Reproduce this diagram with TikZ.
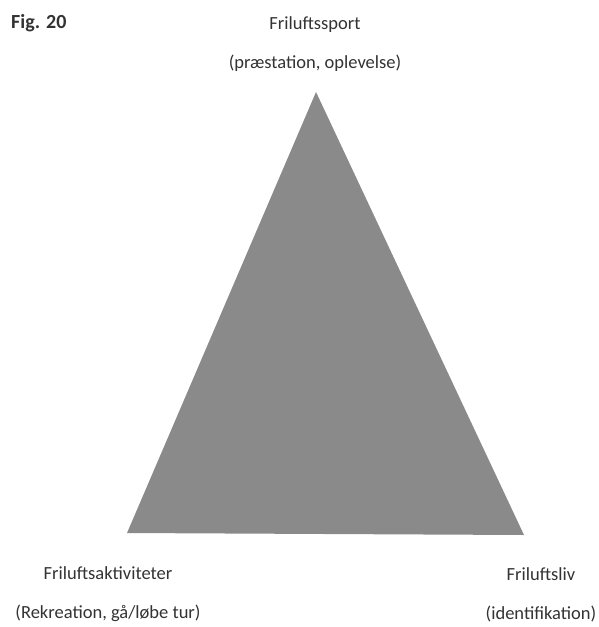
\documentclass[tikz,border=0pt]{standalone}
\usepackage{fontspec}
\setmainfont{Carlito}
\definecolor{trigray}{HTML}{8A8A8A}
\definecolor{txtgray}{HTML}{333333}
\tikzset{
  lbl/.style={align=center, font=\fontsize{18.5}{39}\selectfont, text=txtgray, inner sep=0pt},
  tri/.style={fill=trigray, draw=none}
}
\begin{document}
\begin{tikzpicture}[x=1pt,y=-1pt]
\useasboundingbox (0,0) rectangle (599,627);
\fill[white] (0,0) rectangle (599,627);
\coordinate (A) at (316,92);
\coordinate (B) at (127,533);
\coordinate (C) at (524,535);
\path[tri] (A) -- (B) -- (C) -- cycle;
\node[font=\bfseries\fontsize{20}{22}\selectfont, text=txtgray, anchor=west, inner sep=0pt] (fig) at (11,23) {Fig. 20};
\node[lbl] (top) at (315,44) {Friluftssport\\(præstation, oplevelse)};
\node[lbl] (bl) at (108,594) {Friluftsaktiviteter\\(Rekreation, gå/løbe tur)};
\node[lbl] (br) at (541,595) {Friluftsliv\\(identifikation)};
\end{tikzpicture}
\end{document}
